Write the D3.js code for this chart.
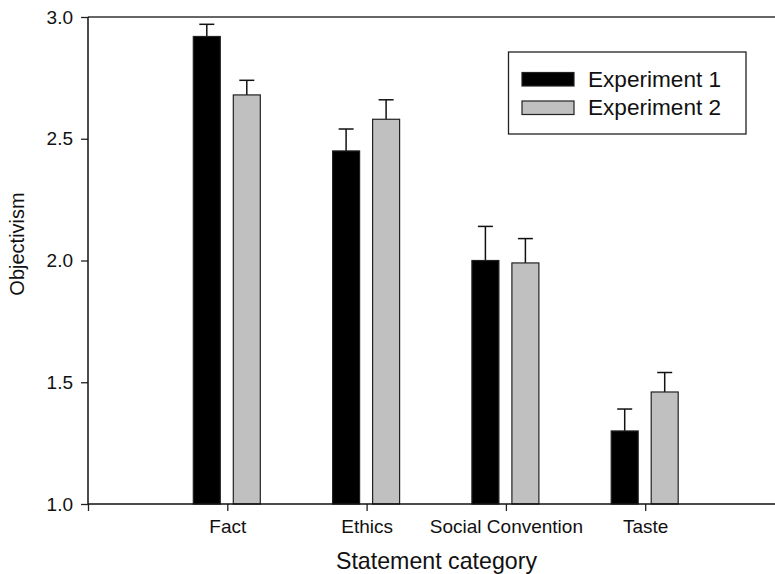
<!DOCTYPE html>
<html>
<head>
<meta charset="utf-8">
<script src="https://cdn.jsdelivr.net/npm/d3@7"></script>
<style>
  html, body { margin: 0; padding: 0; background: #fff; }
  svg { display: block; font-family: "Liberation Sans", Arial, Helvetica, sans-serif; }
</style>
</head>
<body>
<svg id="chart" width="775" height="574"></svg>
<script>
const categories = ["Fact", "Ethics", "Social Convention", "Taste"];
const seriesNames = ["Experiment 1", "Experiment 2"];
const exp1Values = [2.92, 2.45, 2.00, 1.30];
const exp1Errors = [0.05, 0.09, 0.14, 0.09];
const exp2Values = [2.68, 2.58, 1.99, 1.46];
const exp2Errors = [0.06, 0.08, 0.10, 0.08];
const yTicks = [1.0, 1.5, 2.0, 2.5, 3.0];

const svg = d3.select("#chart");
const plotLeft = 88, plotTop = 17, plotBottom = 504;
const colors = ["#000000", "#c0c0c0"];

const y = d3.scaleLinear().domain([1.0, 3.0]).range([plotBottom, plotTop]);
const x = d3.scaleLinear().domain([0, 5]).range([plotLeft, plotLeft + 5 * 139.3]);
const xSub = d3.scaleBand().domain(seriesNames).range([-34, 33]).paddingInner(0.325);

const data = categories.map((c, i) => ({
  cat: c, i: i + 1,
  vals: [
    { s: seriesNames[0], v: exp1Values[i], e: exp1Errors[i] },
    { s: seriesNames[1], v: exp2Values[i], e: exp2Errors[i] }
  ]
}));

const groups = svg.append("g").selectAll("g").data(data).join("g")
  .attr("transform", d => `translate(${x(d.i)},0)`);

groups.selectAll("g.err").data(d => d.vals).join("g").attr("class", "err")
  .each(function(d) {
    const g = d3.select(this);
    const cx = xSub(d.s) + xSub.bandwidth() / 2;
    g.append("line").attr("x1", cx).attr("x2", cx)
      .attr("y1", y(d.v)).attr("y2", y(d.v + d.e))
      .attr("stroke", "#111").attr("stroke-width", 1.5);
    g.append("line").attr("x1", cx - 7.5).attr("x2", cx + 7.5)
      .attr("y1", y(d.v + d.e)).attr("y2", y(d.v + d.e))
      .attr("stroke", "#111").attr("stroke-width", 1.5);
  });

groups.selectAll("rect").data(d => d.vals).join("rect")
  .attr("x", d => xSub(d.s))
  .attr("width", xSub.bandwidth())
  .attr("y", d => y(d.v))
  .attr("height", d => y(1.0) - y(d.v))
  .attr("fill", (d, j) => colors[j])
  .attr("stroke", "#222")
  .attr("stroke-width", 1.2);

const yAxis = d3.axisLeft(y).tickValues(yTicks).tickFormat(d3.format(".1f")).tickSize(7).tickPadding(8);
const yg = svg.append("g").attr("transform", `translate(${plotLeft},0)`).call(yAxis);
yg.select(".domain").remove();
yg.selectAll(".tick line").attr("stroke", "#222").attr("stroke-width", 1.3);
yg.selectAll(".tick text").attr("font-size", 19).attr("fill", "#111")
  .attr("font-family", "Liberation Sans, Arial, sans-serif");

const xAxis = d3.axisBottom(x).tickValues([0, 1, 2, 3, 4]).tickFormat(d => d === 0 ? "" : categories[d - 1]).tickSize(7).tickPadding(9);
const xg = svg.append("g").attr("transform", `translate(0,${plotBottom})`).call(xAxis);
xg.select(".domain").remove();
xg.selectAll(".tick line").attr("stroke", "#222").attr("stroke-width", 1.3);
xg.selectAll(".tick text").attr("font-size", 19).attr("fill", "#111")
  .attr("font-family", "Liberation Sans, Arial, sans-serif");

svg.append("line").attr("x1", plotLeft).attr("x2", 775).attr("y1", plotBottom).attr("y2", plotBottom)
  .attr("stroke", "#111").attr("stroke-width", 1.5);
svg.append("line").attr("x1", plotLeft).attr("x2", 775).attr("y1", plotTop).attr("y2", plotTop)
  .attr("stroke", "#333").attr("stroke-width", 1.3);
svg.append("line").attr("x1", plotLeft).attr("x2", plotLeft).attr("y1", plotTop).attr("y2", plotBottom)
  .attr("stroke", "#111").attr("stroke-width", 1.5);

svg.append("text").attr("x", 436.5).attr("y", 569).attr("text-anchor", "middle")
  .attr("font-size", 23.2).attr("fill", "#111").text("Statement category");
svg.append("text").attr("transform", "translate(24,244) rotate(-90)").attr("text-anchor", "middle")
  .attr("font-size", 20).attr("fill", "#111").text("Objectivism");

const lg = svg.append("g");
lg.append("rect").attr("x", 508.5).attr("y", 52).attr("width", 237.5).attr("height", 82)
  .attr("fill", "#fff").attr("stroke", "#222").attr("stroke-width", 1.3);
const legendRows = lg.selectAll("g.row").data(seriesNames).join("g").attr("class", "row")
  .attr("transform", (d, i) => `translate(0,${i * 28.5})`);
legendRows.append("rect").attr("x", 522).attr("y", 72.5).attr("width", 52).attr("height", 13.5)
  .attr("fill", (d, i) => colors[i]).attr("stroke", "#222").attr("stroke-width", 1.2);
legendRows.append("text").attr("x", 588).attr("y", 86.5)
  .attr("font-size", 22.6).attr("fill", "#111").text(d => d);
</script>
</body>
</html>
